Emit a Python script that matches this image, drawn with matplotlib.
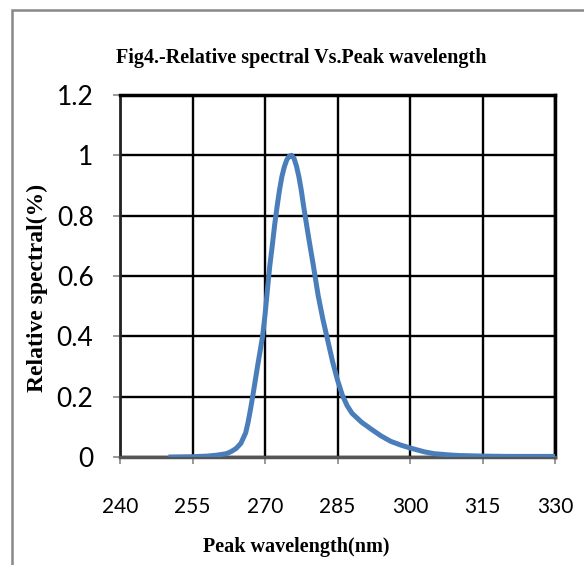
import matplotlib.pyplot as plt
from matplotlib.patches import Rectangle

# wavelength (nm) and relative spectral value
wavelength = [250, 255, 258, 260, 262, 263, 264, 265, 266, 266.5, 267, 267.5, 268, 268.5,
              269, 269.5, 270, 270.5, 271, 271.5, 272, 272.5, 273, 273.5, 274, 274.5,
              275, 275.5, 276, 276.5, 277, 277.5, 278, 279, 280, 281, 282, 283, 284,
              285, 286, 287, 288, 290, 292, 294, 296, 298, 300, 303, 305, 308, 310,
              315, 320, 325, 330]
relative = [0.0, 0.001, 0.003, 0.006, 0.011, 0.018, 0.028, 0.045, 0.08, 0.115, 0.158,
            0.205, 0.255, 0.305, 0.352, 0.4, 0.47, 0.555, 0.635, 0.7, 0.77, 0.83, 0.885,
            0.93, 0.962, 0.985, 0.997, 1.0, 0.99, 0.965, 0.93, 0.885, 0.83, 0.73, 0.635,
            0.535, 0.455, 0.385, 0.315, 0.255, 0.205, 0.17, 0.145, 0.115, 0.092, 0.07,
            0.052, 0.04, 0.03, 0.017, 0.011, 0.007, 0.005, 0.003, 0.002, 0.002, 0.002]

xticks = [240, 255, 270, 285, 300, 315, 330]
yticks = [0, 0.2, 0.4, 0.6, 0.8, 1.0, 1.2]
ytick_labels = ['0', '0.2', '0.4', '0.6', '0.8', '1', '1.2']

tick_font = ['Liberation Sans Narrow', 'Lato', 'DejaVu Sans']
serif_font = ['Liberation Serif', 'DejaVu Serif']

fig = plt.figure(figsize=(5.84, 5.65), dpi=100)
ax = fig.add_axes([120 / 584, 1 - 457 / 565, 435 / 584, 362 / 565])

ax.plot(wavelength, relative, color='#4a7ebb', lw=3.6, solid_joinstyle='round',
        solid_capstyle='butt', zorder=3)

ax.set_xlim(240, 330)
ax.set_ylim(0, 1.2)
ax.set_xticks(xticks)
ax.set_yticks(yticks)
ax.set_yticklabels(ytick_labels)
ax.grid(True, color='black', lw=1.7)
ax.set_axisbelow(True)

for lab in ax.get_xticklabels():
    lab.set_family(tick_font)
    lab.set_fontsize(15)
for lab in ax.get_yticklabels():
    lab.set_family(tick_font)
    lab.set_fontsize(19)
ax.tick_params(axis='x', length=5, width=1.2, color='#888888', pad=24)
ax.tick_params(axis='y', length=5, width=1.2, color='#888888', pad=14)

for side in ['top', 'right']:
    ax.spines[side].set_linewidth(2.5)
    ax.spines[side].set_color('black')
ax.spines['left'].set_linewidth(2)
ax.spines['left'].set_color('#222222')
ax.spines['bottom'].set_linewidth(2.5)
ax.spines['bottom'].set_color('#555555')

fig.text(301 / 584, 1 - 58 / 565, 'Fig4.-Relative spectral Vs.Peak wavelength',
         ha='center', va='center', family=serif_font, weight='bold', fontsize=14.5)
fig.text(296 / 584, 1 - 547 / 565, 'Peak wavelength(nm)',
         ha='center', va='center', family=serif_font, weight='bold', fontsize=14.5)
fig.text(37 / 584, 1 - 288 / 565, 'Relative spectral(%)', rotation=90,
         ha='center', va='center', family=serif_font, weight='bold', fontsize=17)

# outer chart frame
fig.patches.append(Rectangle((12 / 584, -0.05), 1.1, 1 - 10 / 565 + 0.05,
                             transform=fig.transFigure, fill=False,
                             edgecolor='#888888', lw=1.8, clip_on=False))

fig.savefig('out.png', dpi=100)
